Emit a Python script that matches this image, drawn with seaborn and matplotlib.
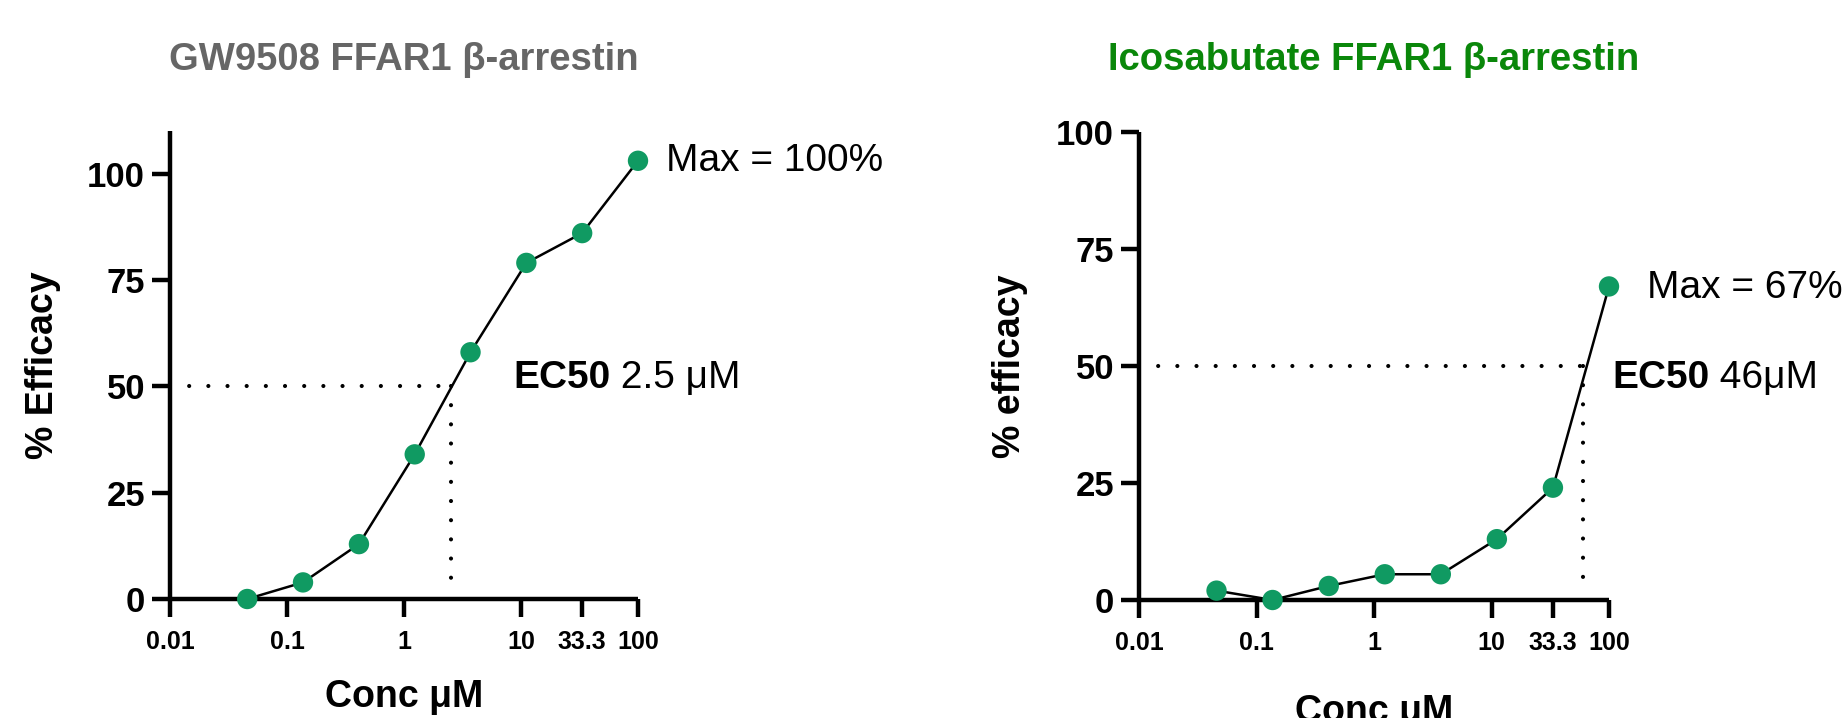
import numpy as np
import pandas as pd
import matplotlib
matplotlib.use("Agg")
import matplotlib.pyplot as plt
import seaborn as sns

# ---------------- data ----------------
conc = [0.0457, 0.137, 0.412, 1.235, 3.704, 11.11, 33.33, 100.0]
gw9508_eff = [0.0, 3.9, 12.9, 34.0, 58.0, 79.0, 86.0, 103.0]
icosa_eff = [2.0, 0.0, 3.0, 5.5, 5.5, 13.0, 24.0, 67.0]

xtick_vals = [0.01, 0.1, 1, 10, 33.3, 100]
xtick_labels = ["0.01", "0.1", "1", "10", "33.3", "100"]
ytick_vals = [0, 25, 50, 75, 100]

titles = ["GW9508 FFAR1 \u03b2-arrestin", "Icosabutate FFAR1 \u03b2-arrestin"]
ylabels = ["% Efficacy", "% efficacy"]
xlabel = "Conc \u03bcM"
max_labels = ["Max = 100%", "Max = 67%"]
ec50_values = ["2.5 \u03bcM", "46\u03bcM"]
ec50_line_x = [2.5, 60.0]
ec50_level = 50

# ---------------- style ----------------
sns.set_theme(style="ticks")
plt.rcParams["font.family"] = ["Liberation Sans", "DejaVu Sans"]
for k in ["text.color", "axes.labelcolor", "xtick.color", "ytick.color", "axes.edgecolor"]:
    plt.rcParams[k] = "black"

GREEN_MARK = "#109A62"
TITLE_COLORS = ["#666666", "#0a870a"]
AXLW = 3.2

fig = plt.figure(figsize=(18.42, 7.18), dpi=100)
axes = [
    fig.add_axes([170 / 1842, (718 - 599) / 718, 468 / 1842, (599 - 131) / 718]),
    fig.add_axes([1139 / 1842, (718 - 600) / 718, 470 / 1842, (600 - 132) / 718]),
]

datasets = [gw9508_eff, icosa_eff]
ylims = [(0, 110), (0, 100)]
max_pos = [(173, 103), (210, 66.7)]
ec50_pos = [(8.55, 52), (106, 47.4)]
ylabel_x = [-0.233, -0.236]
xlabel_y = [-0.171, -0.201]

for i, ax in enumerate(axes):
    df = pd.DataFrame({"conc": conc, "eff": datasets[i]})
    sns.lineplot(data=df, x="conc", y="eff", ax=ax, color="black", lw=1.8,
                 clip_on=False, zorder=3, sort=False)
    sns.scatterplot(data=df, x="conc", y="eff", ax=ax, color=GREEN_MARK,
                    s=215, edgecolor="none", clip_on=False, zorder=5)

    ax.set_xscale("log")
    ax.set_xlim(0.01, 100)
    ax.set_ylim(*ylims[i])
    ax.set_xticks(xtick_vals)
    ax.set_xticklabels(xtick_labels)
    ax.xaxis.set_minor_locator(matplotlib.ticker.NullLocator())
    ax.set_yticks(ytick_vals)
    ax.set_yticklabels([str(v) for v in ytick_vals])

    for s in ["top", "right"]:
        ax.spines[s].set_visible(False)
    for s in ["left", "bottom"]:
        ax.spines[s].set_linewidth(AXLW)
        ax.spines[s].set_color("black")
        ax.spines[s].set_capstyle("butt")

    ax.tick_params(axis="both", which="major", direction="out", length=13,
                   width=AXLW, color="black", labelcolor="black")
    ax.tick_params(axis="x", labelsize=18, pad=9)
    ax.tick_params(axis="y", labelsize=25, pad=5)
    for lab in ax.get_xticklabels() + ax.get_yticklabels():
        lab.set_fontweight("bold")

    ax.set_ylabel(ylabels[i], fontsize=27, fontweight="bold", color="black")
    ax.yaxis.set_label_coords(ylabel_x[i], 0.5)
    ax.set_xlabel(xlabel, fontsize=27, fontweight="bold", color="black")
    ax.xaxis.set_label_coords(0.5, xlabel_y[i])
    ax.xaxis.label.set_va("top")

    # EC50 dotted guide lines
    ls = (0, (0.001, 4.6))
    ax.plot([0.01, ec50_line_x[i]], [ec50_level, ec50_level], color="black",
            lw=3.0, linestyle=ls, dash_capstyle="round", zorder=2, clip_on=False)
    ax.plot([ec50_line_x[i], ec50_line_x[i]], [ec50_level, 2], color="black",
            lw=3.0, linestyle=ls, dash_capstyle="round", zorder=2, clip_on=False)

    # annotations
    ax.text(max_pos[i][0], max_pos[i][1], max_labels[i], fontsize=28,
            ha="left", va="center", color="black", clip_on=False)
    t1 = ax.text(ec50_pos[i][0], ec50_pos[i][1], "EC50", fontsize=28,
                 fontweight="bold", ha="left", va="center", color="black",
                 clip_on=False)
    ax.annotate(" " + ec50_values[i], xy=(1, 0), xycoords=t1, fontsize=28,
                ha="left", va="bottom", color="black", annotation_clip=False)

    # title
    bb = ax.get_position()
    fig.text(bb.x0 + bb.width / 2, 1 - 70 / 718, titles[i], fontsize=27.5,
             fontweight="bold", color=TITLE_COLORS[i], ha="center", va="baseline")

fig.savefig("out.png", dpi=100)
